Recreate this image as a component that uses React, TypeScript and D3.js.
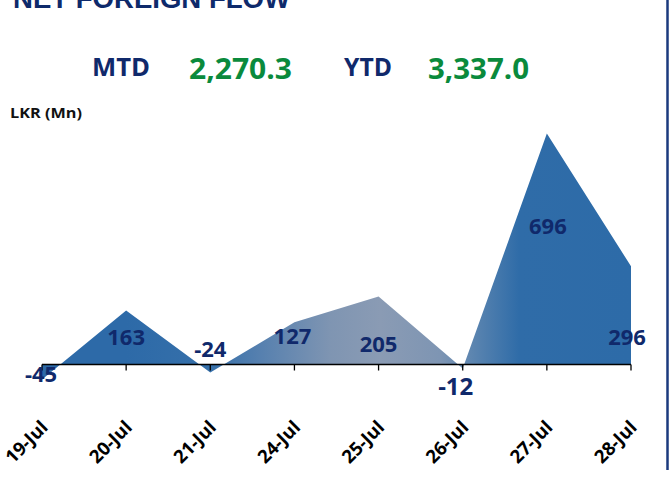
import React from "react";
import * as d3 from "d3";

const categories = ["19-Jul", "20-Jul", "21-Jul", "24-Jul", "25-Jul", "26-Jul", "27-Jul", "28-Jul"];
const values = [-45, 163, -24, 127, 205, -12, 696, 296];
const labelDy = [2.6, 35, -15.5, 22, 55.5, 26.5, 100.5, 79];
const labelSize = [22, 22, 22, 22, 22, 24, 22, 22];
const labelDx = [-1, 0, 0, -2, 0, -7, 1, -4];

const W = 670;
const H = 477;
const NAVY = "#10296B";

export default function App() {
  const x = d3.scalePoint<string>().domain(categories).range([42, 631]);
  const y = d3.scaleLinear().domain([0, 696]).range([364.5, 133.5]);

  const area = d3
    .area<number>()
    .x((_, i) => x(categories[i]) as number)
    .y0(y(0))
    .y1((d) => y(d))
    .curve(d3.curveLinear);

  const stops: [number, string][] = [
    [0, "#2D6AA8"],
    [0.143, "#2D6AA8"],
    [0.285, "#3670AA"],
    [0.37, "#5680AF"],
    [0.49, "#7F95B2"],
    [0.574, "#8A9BB4"],
    [0.676, "#7E95B3"],
    [0.727, "#5E86B0"],
    [0.81, "#2F6CA8"],
    [1, "#2D6BA8"],
  ];

  const font = "'Open Sans', 'Noto Sans', sans-serif";

  return (
    <svg
      width={W}
      height={H}
      style={{ position: "absolute", left: 0, top: 0, background: "#fff" }}
    >
      <defs>
        <linearGradient id="areaGrad" gradientUnits="userSpaceOnUse" x1={42} x2={631} y1={0} y2={0}>
          {stops.map(([o, c], i) => (
            <stop key={i} offset={o} stopColor={c} />
          ))}
        </linearGradient>
      </defs>

      <text
        x={13}
        y={7.5}
        fontFamily="'Liberation Sans', Arial, sans-serif"
        fontWeight="bold"
        fontSize={27.5}
        fill="#0E2A6B"
        textLength={277}
        lengthAdjust="spacingAndGlyphs"
      >
        NET FOREIGN FLOW
      </text>

      <text x={92} y={76} fontFamily={font} fontWeight="bold" fontSize={25} fill={NAVY} textLength={58} lengthAdjust="spacingAndGlyphs">
        MTD
      </text>
      <text x={189} y={79} fontFamily={font} fontWeight="bold" fontSize={28} fill="#0A8A3C" textLength={103} lengthAdjust="spacingAndGlyphs">
        2,270.3
      </text>
      <text x={344} y={76} fontFamily={font} fontWeight="bold" fontSize={25} fill={NAVY} textLength={48} lengthAdjust="spacingAndGlyphs">
        YTD
      </text>
      <text x={428} y={79} fontFamily={font} fontWeight="bold" fontSize={28} fill="#0A8A3C" textLength={101} lengthAdjust="spacingAndGlyphs">
        3,337.0
      </text>

      <text x={10} y={118} fontFamily={font} fontWeight="bold" fontSize={14.5} fill="#111" textLength={72} lengthAdjust="spacingAndGlyphs">
        LKR (Mn)
      </text>

      <path d={area(values) || ""} fill="url(#areaGrad)" />

      <line x1={x(categories[0])} x2={x(categories[categories.length - 1])} y1={y(0)} y2={y(0)} stroke="#000" strokeWidth={1.5} />
      {categories.map((c) => (
        <line key={c} x1={x(c)} x2={x(c)} y1={y(0)} y2={y(0) + 6} stroke="#000" strokeWidth={1.3} />
      ))}

      {categories.map((c) => (
        <text
          key={c}
          transform={`translate(${(x(c) as number) + 7},${y(0) + 64}) rotate(-45)`}
          textAnchor="end"
          fontFamily={font}
          fontWeight="bold"
          fontSize={18.5}
          fill="#000"
        >
          {c}
        </text>
      ))}

      {values.map((v, i) => (
        <text
          key={i}
          x={(x(categories[i]) as number) + labelDx[i]}
          y={y(v) + labelDy[i]}
          textAnchor="middle"
          fontFamily={font}
          fontWeight="bold"
          fontSize={labelSize[i]}
          fill={NAVY}
        >
          {v}
        </text>
      ))}

      <line x1={667.5} x2={667.5} y1={0} y2={470} stroke="#1B3A7E" strokeWidth={2.5} />
    </svg>
  );
}
